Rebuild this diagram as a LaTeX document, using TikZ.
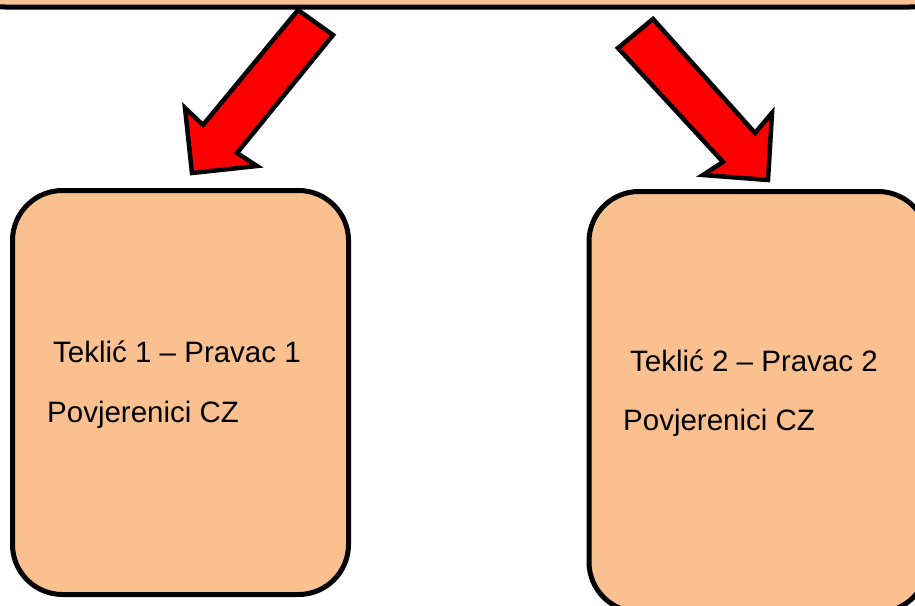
\documentclass[tikz,border=0pt]{standalone}
\usepackage{fontspec}
\setmainfont{Liberation Sans}
\definecolor{peach}{RGB}{250,192,144}
\definecolor{arrowred}{RGB}{255,0,0}
\tikzset{
  panel/.style={draw=black, line width=5pt, fill=peach, rounded corners=50pt,
                inner sep=0pt, outer sep=0pt},
  blockarrow/.style={draw=black, line width=4.5pt, fill=arrowred, line join=miter},
  label/.style={anchor=base west, inner sep=0pt, font=\fontsize{29.5}{34}\selectfont}
}
\begin{document}
\begin{tikzpicture}[x=1pt, y=-1pt]
  \useasboundingbox (0,0) rectangle (915,605);
  \clip (0,0) rectangle (915,605);

  % top panel (only its lower edge is in view)
  \node[panel, minimum width=1005pt, minimum height=107pt] (top) at (457.5,-46.5) {};

  % the two lower panels
  \node[panel, minimum width=336pt, minimum height=404pt] (left) at (180.5,392.5) {};
  \node[panel, minimum width=339pt, minimum height=420.5pt] (right) at (758.5,401.75) {};

  % labels
  \node[label] (l1) at (53,362) {Teklić 1 – Pravac 1};
  \node[label] (l2) at (47,422) {Povjerenici CZ};
  \node[label] (r1) at (630,371) {Teklić 2 – Pravac 2};
  \node[label] (r2) at (623,430) {Povjerenici CZ};

  % block arrows from the top panel down to each lower panel
  \draw[blockarrow] (298,10) -- (333,35) -- (237,153) -- (257,166) -- (192,173)
                    -- (185,108) -- (203,125) -- cycle;
  \draw[blockarrow] (618,48) -- (653,19) -- (755,133) -- (772,113) -- (768,180)
                    -- (703,175) -- (723,162) -- cycle;
\end{tikzpicture}
\end{document}
